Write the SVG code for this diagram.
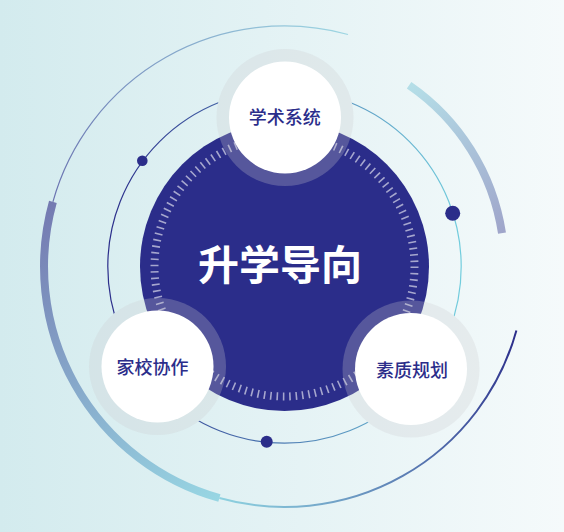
<svg xmlns="http://www.w3.org/2000/svg" width="564" height="532" viewBox="0 0 564 532">
  <defs>
    <linearGradient id="bg" x1="0" y1="0" x2="1" y2="0">
      <stop offset="0" stop-color="#d3ebee"/>
      <stop offset="1" stop-color="#f5fafb"/>
    </linearGradient>
    <linearGradient id="gRing" gradientUnits="userSpaceOnUse" x1="107" y1="0" x2="462" y2="0">
      <stop offset="0" stop-color="#2b2d8a"/>
      <stop offset="1" stop-color="#72cddd"/>
    </linearGradient>
    <linearGradient id="gTopThin" gradientUnits="userSpaceOnUse" x1="52" y1="202" x2="348" y2="34">
      <stop offset="0" stop-color="#6a72b0"/>
      <stop offset="1" stop-color="#9dd6e2"/>
    </linearGradient>
    <linearGradient id="gLeftThick" gradientUnits="userSpaceOnUse" x1="52" y1="202" x2="219" y2="498">
      <stop offset="0" stop-color="#747ab1"/>
      <stop offset="1" stop-color="#98d6e3"/>
    </linearGradient>
    <linearGradient id="gBottomThin" gradientUnits="userSpaceOnUse" x1="219" y1="498" x2="516" y2="330">
      <stop offset="0" stop-color="#8ed2e0"/>
      <stop offset="1" stop-color="#2b2d8a"/>
    </linearGradient>
    <linearGradient id="gRightThick" gradientUnits="userSpaceOnUse" x1="409" y1="85" x2="502" y2="233">
      <stop offset="0" stop-color="#b5dfe8"/>
      <stop offset="1" stop-color="#9fa5ca"/>
    </linearGradient>
    <mask id="ringMask" maskUnits="userSpaceOnUse" x="0" y="0" width="564" height="532">
      <rect x="0" y="0" width="564" height="532" fill="#fff"/>
      <circle cx="285" cy="117.5" r="68.5" fill="#000"/>
      <circle cx="157.5" cy="366.5" r="68.5" fill="#000"/>
      <circle cx="411" cy="369" r="68.5" fill="#000"/>
    </mask>
    <style>
      .arc { fill: none; }
      .dot { fill: #2b2d8a; }
      .halo { fill: #cacbd0; fill-opacity: 0.27; }
      .disc { fill: #ffffff; }
      .label { font-family: "Noto Sans CJK SC", "Noto Sans", sans-serif; font-size: 18px; font-weight: 500; fill: #2b2d8a; text-anchor: middle; }
      .title { font-family: "Noto Sans CJK SC", "Noto Sans", sans-serif; font-size: 41px; font-weight: 700; fill: #ffffff; text-anchor: middle; }
    </style>
  </defs>

  <rect id="background" x="0" y="0" width="564" height="532" fill="url(#bg)"/>

  <g id="decor-arcs">
    <path class="arc" d="M348,34.5 A240.5,240.5 0 0 0 52.9,201.8" stroke="url(#gTopThin)" stroke-width="1.2"/>
    <path class="arc" d="M52.9,201.8 A240.5,240.5 0 0 0 219.4,498" stroke="url(#gLeftThick)" stroke-width="8"/>
    <path class="arc" d="M219.4,498 A240.5,240.5 0 0 0 516.4,330.4" stroke="url(#gBottomThin)" stroke-width="2"/>
    <path class="arc" d="M409.1,85.2 A220,220 0 0 1 502,233.2" stroke="url(#gRightThick)" stroke-width="8"/>
  </g>

  <g id="connectors">
    <circle class="arc" cx="284.5" cy="266.5" r="176.7" stroke="url(#gRing)" stroke-width="1.2" mask="url(#ringMask)"/>
    <circle class="dot" cx="142.3" cy="160.7" r="5.3"/>
    <circle class="dot" cx="452.7" cy="213.3" r="7.5"/>
    <circle class="dot" cx="266.7" cy="441.7" r="6"/>
  </g>

  <g id="node-center">
    <circle cx="284.5" cy="266.5" r="144.5" fill="#2b2d8a"/>
    <circle cx="284.5" cy="266.5" r="130" fill="none" stroke="#ffffff" stroke-opacity="0.58" stroke-width="8" stroke-dasharray="1.6 4.7813"/>
    <text class="title" x="280" y="279.5">升学导向</text>
  </g>

  <g id="node-academic">
    <circle class="halo" cx="285" cy="117.5" r="68.5"/>
    <circle class="disc" cx="285" cy="117.5" r="56"/>
    <text class="label" x="284.7" y="123.8">学术系统</text>
  </g>

  <g id="node-homeschool">
    <circle class="halo" cx="157.5" cy="366.5" r="68.5"/>
    <circle class="disc" cx="157.5" cy="366.5" r="56"/>
    <text class="label" x="152.5" y="373.8">家校协作</text>
  </g>

  <g id="node-quality">
    <circle class="halo" cx="411" cy="369" r="68.5"/>
    <circle class="disc" cx="411" cy="369" r="56"/>
    <text class="label" x="412" y="377.3">素质规划</text>
  </g>
</svg>
